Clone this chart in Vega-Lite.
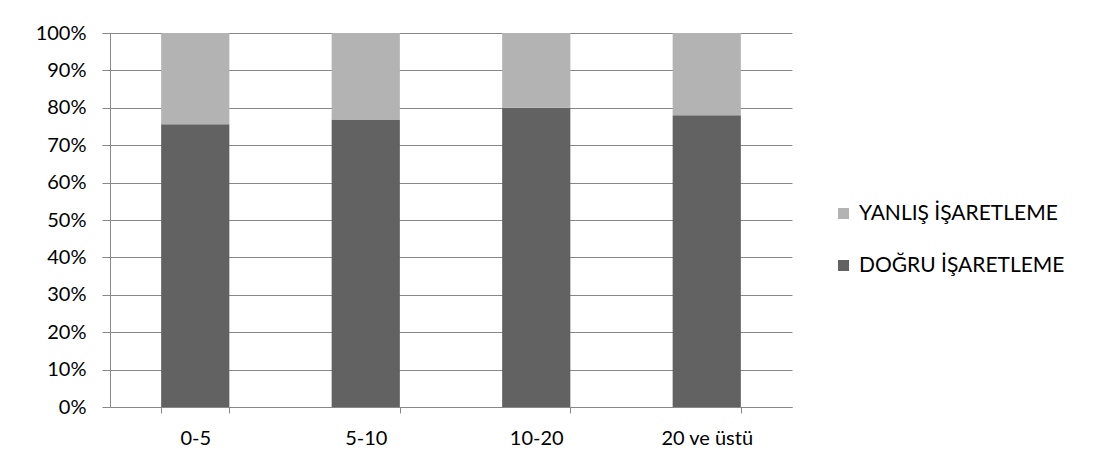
{
  "$schema": "https://vega.github.io/schema/vega-lite/v6.json",
  "width": 682,
  "height": 374,
  "autosize": {"type": "none"},
  "padding": {"left": 110, "top": 33, "right": 312, "bottom": 65},
  "background": "white",
  "config": {
    "view": {"stroke": null},
    "font": "Lato",
    "axis": {"labelFont": "Lato", "labelFontSize": 20, "labelColor": "#000000", "domainColor": "#888888", "tickColor": "#888888", "gridColor": "#888888", "gridWidth": 1, "domainWidth": 1, "tickWidth": 1, "labelOverlap": false, "labelLimit": 0}
  },
  "data": {
    "values": [
      {"grup": "0-5", "tur": "DOĞRU İŞARETLEME", "oran": 0.756, "sira": 1},
      {"grup": "0-5", "tur": "YANLIŞ İŞARETLEME", "oran": 0.244, "sira": 2},
      {"grup": "5-10", "tur": "DOĞRU İŞARETLEME", "oran": 0.769, "sira": 1},
      {"grup": "5-10", "tur": "YANLIŞ İŞARETLEME", "oran": 0.231, "sira": 2},
      {"grup": "10-20", "tur": "DOĞRU İŞARETLEME", "oran": 0.800, "sira": 1},
      {"grup": "10-20", "tur": "YANLIŞ İŞARETLEME", "oran": 0.200, "sira": 2},
      {"grup": "20 ve üstü", "tur": "DOĞRU İŞARETLEME", "oran": 0.780, "sira": 1},
      {"grup": "20 ve üstü", "tur": "YANLIŞ İŞARETLEME", "oran": 0.220, "sira": 2}
    ]
  },
  "mark": {"type": "bar"},
  "encoding": {
    "x": {
      "field": "grup", "type": "nominal", "sort": ["0-5", "5-10", "10-20", "20 ve üstü"],
      "scale": {"paddingInner": 0.6, "paddingOuter": 0.3},
      "axis": {"title": null, "labelAngle": 0, "tickBand": "extent", "tickSize": 6, "labelPadding": 15, "grid": false}
    },
    "y": {
      "field": "oran", "type": "quantitative", "stack": "zero",
      "scale": {"domain": [0, 1], "nice": false},
      "axis": {"title": null, "format": ".0%", "values": [0,0.1,0.2,0.3,0.4,0.5,0.6,0.7,0.8,0.9,1], "tickSize": 8, "labelPadding": 16, "grid": true}
    },
    "color": {
      "field": "tur", "type": "nominal",
      "scale": {"domain": ["YANLIŞ İŞARETLEME", "DOĞRU İŞARETLEME"], "range": ["#b3b3b3", "#626262"]},
      "legend": {"title": null, "orient": "none", "legendX": 723, "legendY": 170, "symbolType": "square", "symbolSize": 121, "symbolStrokeWidth": 0, "labelFontSize": 21, "labelFont": "Lato", "labelColor": "#000000", "labelLimit": 0, "rowPadding": 30, "labelOffset": 5}
    },
    "order": {"field": "sira", "type": "quantitative"}
  }
}
